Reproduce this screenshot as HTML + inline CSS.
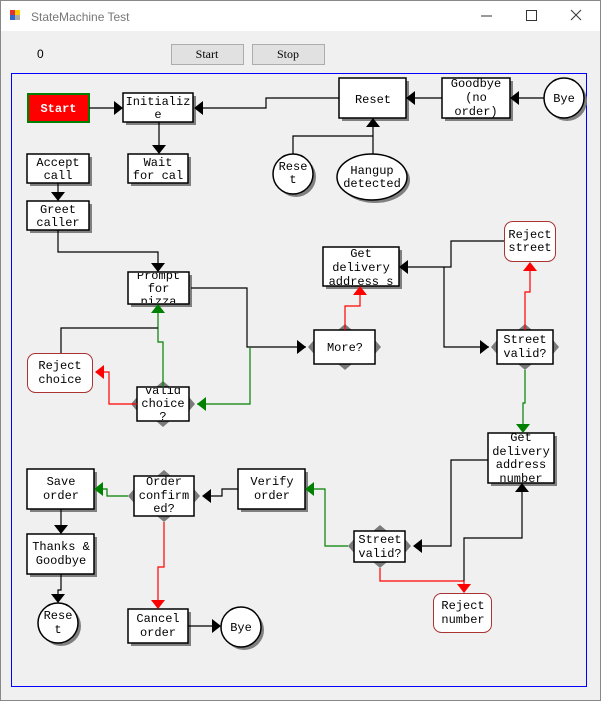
<!DOCTYPE html>
<html><head><meta charset="utf-8"><style>
html,body{margin:0;padding:0;width:601px;height:701px;overflow:hidden;background:#f0f0f0}
svg{display:block}
.t{font-family:"Liberation Mono",monospace;font-size:12px;fill:#000;text-anchor:middle}
.b{fill:#fff;stroke:#000;stroke-width:1.5}
.sh{fill:#808080}
.l{fill:none;stroke:#000;stroke-width:1.2}
.g{fill:none;stroke:#008000;stroke-width:1.2}
.r{fill:none;stroke:#f00;stroke-width:1.2}
.h{fill:#7a7a7a}
</style></head><body>
<svg width="601" height="701" xmlns="http://www.w3.org/2000/svg">
<rect x="0" y="0" width="601" height="701" fill="#f0f0f0"/>
<rect x="0" y="0" width="601" height="31" fill="#fff"/>
<rect x="0.5" y="0.5" width="600" height="700" fill="none" stroke="#888"/>
<rect x="10" y="10" width="5" height="5" fill="#d33"/><rect x="15" y="10" width="5" height="5" fill="#fc0"/><rect x="10" y="15" width="5" height="5" fill="#36c"/><rect x="15" y="15" width="5" height="5" fill="#aaa"/>
<text x="31" y="21" font-family="Liberation Sans,sans-serif" font-size="12" fill="#777">StateMachine Test</text>
<line x1="481" y1="16" x2="492" y2="16" stroke="#333"/>
<rect x="526.5" y="10.5" width="10" height="10" fill="none" stroke="#333"/>
<path d="M571 10 L581 20 M581 10 L571 20" stroke="#333"/>
<text x="37" y="58" font-family="Liberation Sans,sans-serif" font-size="12">0</text>
<rect x="171.5" y="44.5" width="72" height="20" fill="#e1e1e1" stroke="#adadad"/>
<text x="207" y="58" font-family="Liberation Serif,serif" font-size="12" text-anchor="middle">Start</text>
<rect x="252.5" y="44.5" width="72" height="20" fill="#e1e1e1" stroke="#adadad"/>
<text x="288" y="58" font-family="Liberation Serif,serif" font-size="12" text-anchor="middle">Stop</text>
<rect x="11.5" y="73.5" width="575" height="613" fill="none" stroke="#00f"/>

<!-- nodes -->
<rect x="28" y="94" width="61" height="28" fill="#f00" stroke="#008000" stroke-width="2"/>
<text x="58.5" y="112" class="t" style="fill:#fff;font-weight:bold">Start</text>

<rect class="sh" x="126" y="96" width="70" height="29"/><rect class="b" x="123" y="93" width="70" height="29"/>
<text class="t" x="158" y="105">Initializ</text><text class="t" x="158" y="118">e</text>

<rect class="sh" x="131" y="157" width="60" height="29"/><rect class="b" x="128" y="154" width="60" height="29"/>
<text class="t" x="158" y="166">Wait</text><text class="t" x="158" y="179">for cal</text>

<rect class="sh" x="30" y="157" width="62" height="29"/><rect class="b" x="27" y="154" width="62" height="29"/>
<text class="t" x="58" y="166">Accept</text><text class="t" x="58" y="179">call</text>

<rect class="sh" x="30" y="204" width="62" height="29"/><rect class="b" x="27" y="201" width="62" height="29"/>
<text class="t" x="58" y="213">Greet</text><text class="t" x="58" y="226">caller</text>

<rect class="sh" x="342" y="81" width="67" height="40"/><rect class="b" x="339" y="78" width="67" height="40"/>
<text class="t" x="373" y="103">Reset</text>

<rect class="sh" x="445" y="81" width="68" height="40"/><rect class="b" x="442" y="78" width="68" height="40"/>
<text class="t" x="476" y="87">Goodbye</text><text class="t" x="476" y="101">(no</text><text class="t" x="476" y="115">order)</text>

<ellipse class="sh" cx="567" cy="101" rx="20" ry="20"/><ellipse class="b" cx="564" cy="98" rx="20" ry="20"/>
<text class="t" x="564" y="102">Bye</text>

<ellipse class="sh" cx="296" cy="177" rx="20" ry="20"/><ellipse class="b" cx="293" cy="174" rx="20" ry="20"/>
<text class="t" x="293" y="170">Rese</text><text class="t" x="293" y="183">t</text>

<ellipse class="sh" cx="375" cy="180" rx="35" ry="23"/><ellipse class="b" cx="372" cy="177" rx="35" ry="23"/>
<text class="t" x="372" y="174">Hangup</text><text class="t" x="372" y="187">detected</text>

<rect x="504.5" y="221.5" width="51" height="40" rx="8" fill="#fff" stroke="#a33" stroke-width="1"/>
<text class="t" x="530" y="238">Reject</text><text class="t" x="530" y="251">street</text>

<rect class="sh" x="131" y="275" width="61" height="32"/><rect class="b" x="128" y="272" width="61" height="32"/>
<svg x="128" y="273" width="61" height="30" overflow="hidden"><text class="t" x="30.5" y="6">Prompt</text><text class="t" x="30.5" y="19">for</text><text class="t" x="30.5" y="32">pizza</text></svg>

<rect class="sh" x="326" y="250" width="76" height="39"/><rect class="b" x="323" y="247" width="76" height="39"/>
<text class="t" x="361" y="257">Get</text><text class="t" x="361" y="271">delivery</text><text class="t" x="361" y="285">address s</text>

<rect x="27.5" y="353.5" width="65" height="39" rx="8" fill="#fff" stroke="#a33" stroke-width="1"/>
<text class="t" x="60" y="369">Reject</text><text class="t" x="60" y="383">choice</text>

<polygon class="h" points="345,324 352,330 345,336 338,330"/><polygon class="h" points="345,358 352,364 345,370 338,364"/>
<polygon class="h" points="308,347 314,340 320,347 314,354"/><polygon class="h" points="369,347 375,340 381,347 375,354"/>
<rect class="b" x="314" y="330" width="61" height="34"/>
<text class="t" x="345" y="351">More?</text>

<polygon class="h" points="525,324 532,330 525,336 518,330"/><polygon class="h" points="525,358 532,364 525,370 518,364"/>
<polygon class="h" points="491,347 497,340 503,347 497,354"/><polygon class="h" points="547,347 553,340 559,347 553,354"/>
<rect class="b" x="497" y="330" width="56" height="34"/>
<text class="t" x="525" y="343">Street</text><text class="t" x="525" y="357">valid?</text>

<polygon class="h" points="163,381 170,387 163,393 156,387"/><polygon class="h" points="163,415 170,421 163,427 156,421"/>
<polygon class="h" points="131,404 137,397 143,404 137,411"/><polygon class="h" points="183,404 189,397 195,404 189,411"/>
<rect class="b" x="137" y="387" width="52" height="34"/>
<svg x="137" y="388" width="52" height="32" overflow="hidden"><text class="t" x="26" y="6">valid</text><text class="t" x="26" y="19">choice</text><text class="t" x="26" y="32">?</text></svg>

<rect class="sh" x="491" y="436" width="66" height="50"/><rect class="b" x="488" y="433" width="66" height="50"/>
<text class="t" x="521" y="441">Get</text><text class="t" x="521" y="455">delivery</text><text class="t" x="521" y="468">address</text><text class="t" x="521" y="482">number</text>

<rect class="sh" x="30" y="472" width="67" height="40"/><rect class="b" x="27" y="469" width="67" height="40"/>
<text class="t" x="61" y="485">Save</text><text class="t" x="61" y="499">order</text>

<polygon class="h" points="164,470 171,476 164,482 157,476"/><polygon class="h" points="164,510 171,516 164,522 157,516"/>
<polygon class="h" points="128,496 134,489 140,496 134,503"/><polygon class="h" points="188,496 194,489 200,496 194,503"/>
<rect class="b" x="134" y="476" width="60" height="40"/>
<text class="t" x="164" y="485">Order</text><text class="t" x="164" y="499">confirm</text><text class="t" x="164" y="512">ed?</text>

<rect class="sh" x="241" y="472" width="67" height="40"/><rect class="b" x="238" y="469" width="67" height="40"/>
<text class="t" x="272" y="485">Verify</text><text class="t" x="272" y="499">order</text>

<polygon class="h" points="380,525 387,531 380,537 373,531"/><polygon class="h" points="380,556 387,562 380,568 373,562"/>
<polygon class="h" points="348,546 354,539 360,546 354,553"/><polygon class="h" points="399,546 405,539 411,546 405,553"/>
<rect class="b" x="354" y="531" width="51" height="31"/>
<text class="t" x="380" y="543">Street</text><text class="t" x="380" y="557">valid?</text>

<rect class="sh" x="30" y="537" width="67" height="40"/><rect class="b" x="27" y="534" width="67" height="40"/>
<text class="t" x="61" y="550">Thanks &amp;</text><text class="t" x="61" y="564">Goodbye</text>

<ellipse class="sh" cx="61" cy="626" rx="20" ry="20"/><ellipse class="b" cx="58" cy="623" rx="20" ry="20"/>
<text class="t" x="58" y="619">Rese</text><text class="t" x="58" y="633">t</text>

<rect class="sh" x="131" y="612" width="60" height="34"/><rect class="b" x="128" y="609" width="60" height="34"/>
<text class="t" x="158" y="622">Cancel</text><text class="t" x="158" y="636">order</text>

<ellipse class="sh" cx="244" cy="630" rx="20" ry="20"/><ellipse class="b" cx="241" cy="627" rx="20" ry="20"/>
<text class="t" x="241" y="631">Bye</text>

<rect x="433.5" y="593.5" width="58" height="39" rx="8" fill="#fff" stroke="#a33" stroke-width="1"/>
<text class="t" x="463" y="609">Reject</text><text class="t" x="463" y="623">number</text>

<!-- connectors (drawn on top) -->
<path class="l" d="M89 108 H117"/><polygon points="114,101 123,108 114,115"/>
<path class="l" d="M339 98 H266 V108 H202"/><polygon points="203,101 194,108 203,115"/>
<path class="l" d="M442 98 H414"/><polygon points="415,91 406,98 415,105"/>
<path class="l" d="M544 98 H518"/><polygon points="519,91 510,98 519,105"/>
<path class="l" d="M159 122 V146"/><polygon points="152,145 159,154 166,145"/>
<path class="l" d="M293 154 V136 H373 V126 M373 154 V126"/><polygon points="366,127 373,118 380,127"/>
<path class="l" d="M58 183 V193"/><polygon points="51,192 58,201 65,192"/>
<path class="l" d="M58 230 V252 H158 V264"/><polygon points="151,263 158,272 165,263"/>
<path class="l" d="M191 288 H247 V347 H306"/><polygon points="297,340 306,347 297,354"/>
<path class="g" d="M250 347 V404 H197"/><polygon fill="#008000" points="206,397 197,404 206,411"/>
<path class="g" d="M163 387 V342 H158 V312"/><polygon fill="#008000" points="151,313 158,304 165,313"/>
<path class="l" d="M61 353 V328 H158"/>
<path class="r" d="M137 404 H109 V372 H102"/><polygon fill="#f00" points="104,365 95,372 104,379"/>
<path class="r" d="M345 330 V306 H360 V294"/><polygon fill="#f00" points="353,295 360,286 367,295"/>
<path class="l" d="M504 241 H451 V267 H407 M444 267 V347 H489"/><polygon points="408,260 399,267 408,274"/><polygon points="480,340 489,347 480,354"/>
<path class="r" d="M525 330 V292 H530 V270"/><polygon fill="#f00" points="523,271 530,262 537,271"/>
<path class="g" d="M525 370 V403 H523 V425"/><polygon fill="#008000" points="516,424 523,433 530,424"/>
<path class="l" d="M488 460 H451 V546 H421"/><polygon points="422,539 413,546 422,553"/>
<path class="r" d="M380 568 V581 H464 V585"/><polygon fill="#f00" points="457,584 464,593 471,584"/>
<path class="l" d="M464 581 V538 H522 V491"/><polygon points="515,492 522,483 529,492"/>
<path class="g" d="M348 546 H325 V489 H313"/><polygon fill="#008000" points="314,482 305,489 314,496"/>
<path class="l" d="M238 489 H222 V496 H210"/><polygon points="211,489 202,496 211,503"/>
<path class="g" d="M128 496 H107 V489 H102"/><polygon fill="#008000" points="103,482 94,489 103,496"/>
<path class="r" d="M164 522 V567 H158 V601"/><polygon fill="#f00" points="151,600 158,609 165,600"/>
<path class="l" d="M61 509 V526"/><polygon points="54,525 61,534 68,525"/>
<path class="l" d="M61 574 V590 H58 V595"/><polygon points="51,594 58,603 65,594"/>
<path class="l" d="M188 626 H213"/><polygon points="212,619 221,626 212,633"/>
</svg>
</body></html>
